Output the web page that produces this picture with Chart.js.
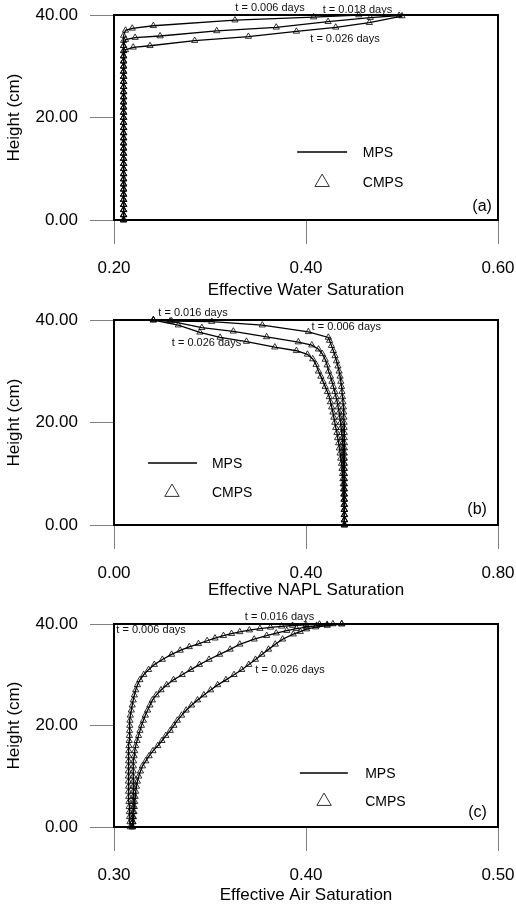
<!DOCTYPE html>
<html>
<head>
<meta charset="UTF-8">
<title>Effective saturation profiles</title>
<script src="https://cdn.jsdelivr.net/npm/chart.js"></script>
<style>
  html, body { margin: 0; padding: 0; background: #fff; }
  canvas { position: absolute; left: 0; }
</style>
</head>
<body>
<canvas id="chartA" width="516" height="299" style="top:0px"></canvas>
<canvas id="chartB" width="516" height="299" style="top:305px"></canvas>
<canvas id="chartC" width="516" height="299" style="top:609px"></canvas>

<script>
// tick values
const heightTicks = [0, 20, 40];
const waterTicks = [0.2, 0.4, 0.6];
const naplTicks = [0.0, 0.4, 0.8];
const airTicks = [0.3, 0.4, 0.5];

// (a) effective water saturation, [saturation, height cm]
const waterT006 = [
  [0.21,0],[0.21,1],[0.21,2],[0.21,3],[0.21,4],[0.21,5],[0.21,6],[0.21,7],[0.21,8],[0.21,9],
  [0.21,10],[0.21,11],[0.21,12],[0.21,13],[0.21,14],[0.21,15],[0.21,16],[0.21,17],[0.21,18],[0.21,19],
  [0.21,20],[0.21,21],[0.21,22],[0.21,23],[0.21,24],[0.21,25],[0.21,26],[0.21,27],[0.21,28],[0.21,29],
  [0.21,30],[0.21,31],[0.21,32],[0.21,33],[0.21,34],[0.21,35],[0.21,36],
  [0.212,37.0],[0.219,37.4],[0.241,37.9],[0.326,39.0],[0.408,39.6],[0.455,40.0]
];
const waterT018 = [
  [0.21,0],[0.21,1],[0.21,2],[0.21,3],[0.21,4],[0.21,5],[0.21,6],[0.21,7],[0.21,8],[0.21,9],
  [0.21,10],[0.21,11],[0.21,12],[0.21,13],[0.21,14],[0.21,15],[0.21,16],[0.21,17],[0.21,18],[0.21,19],
  [0.21,20],[0.21,21],[0.21,22],[0.21,23],[0.21,24],[0.21,25],[0.21,26],[0.21,27],[0.21,28],[0.21,29],
  [0.21,30],[0.21,31],[0.21,32],[0.21,33],[0.21,34],
  [0.212,35.2],[0.222,35.6],[0.248,35.9],[0.307,36.9],[0.369,37.6],[0.423,38.7],[0.467,39.5],[0.497,39.9]
];
const waterT026 = [
  [0.21,0],[0.21,1],[0.21,2],[0.21,3],[0.21,4],[0.21,5],[0.21,6],[0.21,7],[0.21,8],[0.21,9],
  [0.21,10],[0.21,11],[0.21,12],[0.21,13],[0.21,14],[0.21,15],[0.21,16],[0.21,17],[0.21,18],[0.21,19],
  [0.21,20],[0.21,21],[0.21,22],[0.21,23],[0.21,24],[0.21,25],[0.21,26],[0.21,27],[0.21,28],[0.21,29],
  [0.21,30],[0.21,31],[0.21,32],
  [0.212,33.2],[0.220,33.7],[0.2375,34.0],[0.284,35.0],[0.34,35.8],[0.39,36.8],[0.431,37.6],[0.466,38.5],[0.50,39.8]
];

// (b) effective NAPL saturation
const naplT006 = [
  [0.082,40],[0.12,39.8],[0.2035,39.7],[0.309,39.0],[0.405,37.7],[0.4465,36.6],
  [0.449,36],[0.453,35],[0.457,34],[0.4605,33],[0.4635,32],[0.4665,31],[0.469,30],[0.471,29],[0.4725,28],[0.474,27],
  [0.475,26],[0.476,25],[0.477,24],[0.478,23],[0.4785,22],[0.479,21],[0.4793,20],[0.4795,19],[0.4797,18],[0.4798,17],
  [0.48,16],[0.48,15],[0.48,14],[0.48,13],[0.48,12],[0.48,11],[0.48,10],[0.48,9],[0.48,8],[0.48,7],
  [0.48,6],[0.48,5],[0.48,4],[0.48,3],[0.48,2],[0.48,1],[0.48,0]
];
const naplT016 = [
  [0.082,40],[0.117,39.8],[0.183,38.5],[0.2486,37.8],[0.318,36.7],[0.384,35.7],[0.412,35.1],[0.426,34.3],
  [0.434,33.4],[0.44,32.3],[0.444,31.2],[0.447,30],[0.451,29],[0.454,28],[0.457,27],[0.46,26],[0.4625,25],
  [0.465,24],[0.467,23],[0.469,22],[0.4705,21],[0.472,20],[0.473,19],[0.4745,18],[0.4755,17],[0.4765,16],
  [0.4772,15],[0.4778,14],[0.4783,13],[0.4787,12],[0.479,11],[0.4793,10],[0.4795,9],[0.4797,8],[0.4798,7],
  [0.48,6],[0.48,5],[0.48,4],[0.48,3],[0.48,2],[0.48,1],[0.48,0]
];
const naplT026 = [
  [0.082,40],[0.134,39.0],[0.179,37.6],[0.221,36.6],[0.276,35.8],[0.335,34.7],[0.38,34.0],[0.403,33.3],
  [0.414,32.4],[0.421,31.3],[0.426,30],[0.431,29],[0.4355,28],[0.44,27],[0.4445,26],[0.4485,25],[0.451,24],
  [0.4535,23],[0.456,22],[0.458,21],[0.46,20],[0.462,19],[0.4645,18],[0.466,17],[0.468,16],[0.4695,15],
  [0.471,14],[0.4725,13],[0.474,12],[0.475,11],[0.476,10],[0.4768,9],[0.4775,8],[0.478,7],[0.4785,6],
  [0.479,5],[0.4793,4],[0.4796,3],[0.4798,2],[0.48,1],[0.48,0]
];

// (c) effective air saturation
const airT006 = [
  [0.3085,0],[0.3083,1],[0.3081,2],[0.308,3],[0.3079,4],[0.3078,5],[0.3077,6],[0.3076,7],[0.3076,8],[0.3075,9],
  [0.3075,10],[0.3075,11],[0.3075,12],[0.3076,13],[0.3076,14],[0.3077,15],[0.3078,16],[0.3079,17],[0.308,18],
  [0.3081,19],[0.3082,20],[0.3083,21],[0.3085,22],[0.309,23],[0.3095,24],[0.310,25],[0.3106,26],[0.3113,27],
  [0.3122,28],[0.3135,29],[0.3155,30],[0.318,31],[0.321,32],[0.3252,33],[0.33,34],[0.3345,34.8],[0.3392,35.5],
  [0.344,36.1],[0.3485,36.7],[0.3526,37.2],[0.357,37.7],[0.3612,38.1],[0.3655,38.45],[0.3705,38.8],[0.376,39.1],
  [0.3815,39.35],[0.3873,39.55],[0.393,39.7],[0.40,39.85],[0.407,39.95],[0.414,40]
];
const airT016 = [
  [0.3096,0],[0.3097,1],[0.3098,2],[0.3099,3],[0.31,4],[0.31,5],[0.31,6],[0.31,7],[0.31,8],[0.31,9],
  [0.31,10],[0.31,11],[0.3101,12],[0.3102,13],[0.3105,14],[0.3108,15],[0.3113,16],[0.312,17],[0.3128,18],
  [0.3135,19],[0.3143,20],[0.3153,21],[0.3163,22],[0.3175,23],[0.3187,24],[0.32,25],[0.322,26],[0.3245,27],
  [0.3274,28],[0.331,29],[0.3355,30],[0.34,31],[0.3445,32],[0.3495,33],[0.355,34],[0.3605,35],[0.3655,36],
  [0.373,37],[0.3795,37.7],[0.3845,38.2],[0.39,38.7],[0.395,39.1],[0.4003,39.4],[0.4055,39.7],[0.411,39.9],[0.4186,40]
];
const airT026 = [
  [0.3096,0],[0.3099,1],[0.3101,2],[0.3104,3],[0.3106,4],[0.3108,5],[0.311,6],[0.3113,7],[0.3117,8],[0.3122,9],
  [0.3129,10],[0.3138,11],[0.3148,12],[0.3165,13],[0.3183,14],[0.3203,15],[0.3228,16],[0.325,17],[0.327,18],
  [0.3293,19],[0.3312,20],[0.333,21],[0.3352,22],[0.3376,23],[0.3404,24],[0.3435,25],[0.3468,26],[0.3503,27],
  [0.354,28],[0.3583,29],[0.3625,30],[0.3665,31],[0.3702,32],[0.3737,33],[0.377,34],[0.3805,35],[0.384,36],
  [0.3878,37],[0.3934,38],[0.397,38.5],[0.4003,39],[0.405,39.4],[0.411,39.7],[0.4186,40]
];

const FONT = "'Liberation Sans', Arial, Helvetica, sans-serif";
Chart.defaults.font.family = FONT;
Chart.defaults.color = '#000';

// thick box round the plot area
const framePlugin = {
  id: 'frame',
  afterDatasetsDraw(chart) {
    const a = chart.chartArea;
    const ctx = chart.ctx;
    ctx.save();
    ctx.lineWidth = 2;
    ctx.strokeStyle = '#000';
    ctx.strokeRect(a.left, a.top, a.right - a.left, a.bottom - a.top);
    ctx.restore();
  }
};

// curve labels (data coords), legend and panel tag
function makeDecor(p) {
  return {
    id: 'decor',
    afterDraw(chart) {
      const ctx = chart.ctx;
      const xs = chart.scales.x, ys = chart.scales.y;
      const a = chart.chartArea;
      const w = a.right - a.left, h = a.bottom - a.top;
      ctx.save();
      ctx.fillStyle = '#111';
      ctx.textAlign = 'center';
      ctx.textBaseline = 'middle';
      ctx.font = '11px ' + FONT;
      p.notes.forEach(n => {
        ctx.fillText(n.text, xs.getPixelForValue(n.x), ys.getPixelForValue(n.y));
      });

      const lg = p.legend;
      const ly1 = a.top + h * lg.y1, ly2 = a.top + h * lg.y2;
      ctx.strokeStyle = '#000';
      ctx.lineWidth = 1.5;
      ctx.beginPath();
      ctx.moveTo(a.left + w * lg.lx1, ly1);
      ctx.lineTo(a.left + w * lg.lx2, ly1);
      ctx.stroke();

      const tx = a.left + w * lg.tri, r = 8;
      ctx.lineWidth = 1;
      ctx.strokeStyle = '#333';
      ctx.beginPath();
      ctx.moveTo(tx, ly2 - r);
      ctx.lineTo(tx + r * 0.9, ly2 + r * 0.55);
      ctx.lineTo(tx - r * 0.9, ly2 + r * 0.55);
      ctx.closePath();
      ctx.stroke();

      ctx.textAlign = 'left';
      ctx.font = '14px ' + FONT;
      ctx.fillStyle = '#000';
      ctx.fillText('MPS', a.left + w * lg.text, ly1 + 1);
      ctx.fillText('CMPS', a.left + w * lg.text, ly2 + 1);

      ctx.textAlign = 'right';
      ctx.font = '16px ' + FONT;
      ctx.fillText(p.tag, a.left + w * lg.tagX, a.top + h * lg.tagY);
      ctx.restore();
    }
  };
}

function curveSets(points) {
  return [
    { data: points.slice(), showLine: true, borderColor: '#000', borderWidth: 1.3,
      pointRadius: 0, tension: 0 },
    { data: points.slice(), showLine: false, pointStyle: 'triangle', pointRadius: 3.6,
      borderColor: '#000', borderWidth: 0.8, backgroundColor: 'rgba(0,0,0,0)', clip: false }
  ];
}

const tickGrid = { drawOnChartArea: false, tickLength: 24, color: '#808080', lineWidth: 1 };

function makePanel(id, p) {
  new Chart(document.getElementById(id), {
    type: 'scatter',
    data: { datasets: [].concat(...p.curves.map(curveSets)) },
    options: {
      responsive: false,
      animation: false,
      layout: { padding: { top: 15, right: 18, bottom: 0, left: 0 } },
      plugins: { legend: { display: false }, tooltip: { enabled: false } },
      scales: {
        x: {
          type: 'linear', min: p.xMin, max: p.xMax,
          afterBuildTicks: s => { s.ticks = p.xTicks.map(v => ({ value: v })); },
          afterFit: s => { s.height = p.axisH; s.paddingLeft = 0; s.paddingRight = 0; },
          grid: tickGrid,
          border: { display: false },
          ticks: { padding: 14, maxRotation: 0, font: { size: 17 }, callback: v => v.toFixed(2) },
          title: { display: true, text: p.xTitle, font: { size: 17, lineHeight: 1 },
                   padding: { top: 0, bottom: p.titlePad } }
        },
        y: {
          type: 'linear', min: 0, max: 40,
          afterBuildTicks: s => { s.ticks = heightTicks.map(v => ({ value: v })); },
          afterFit: s => { s.width = 114; s.paddingTop = 0; s.paddingBottom = 0; },
          grid: tickGrid,
          border: { display: false },
          ticks: { padding: 12, font: { size: 17 }, callback: v => v.toFixed(2) },
          title: { display: true, text: 'Height (cm)', font: { size: 17, lineHeight: 1 },
                   padding: { top: 6, bottom: 0 } }
        }
      }
    },
    plugins: [framePlugin, makeDecor(p)]
  });
}

makePanel('chartA', {
  curves: [waterT006, waterT018, waterT026],
  xMin: 0.2, xMax: 0.6, xTicks: waterTicks, xTitle: 'Effective Water Saturation',
  axisH: 79, titlePad: 0, tag: '(a)',
  notes: [
    { text: 't = 0.006 days', x: 0.3625, y: 41.4 },
    { text: 't = 0.018 days', x: 0.4536, y: 41.0 },
    { text: 't = 0.026 days', x: 0.4406, y: 35.3 }
  ],
  legend: { lx1: 0.477, lx2: 0.607, y1: 0.668, tri: 0.542, y2: 0.815, text: 0.648, tagX: 0.984, tagY: 0.937 }
});

makePanel('chartB', {
  curves: [naplT006, naplT016, naplT026],
  xMin: 0, xMax: 0.8, xTicks: naplTicks, xTitle: 'Effective NAPL Saturation',
  axisH: 79, titlePad: 5, tag: '(b)',
  notes: [
    { text: 't = 0.016 days', x: 0.1646, y: 41.4 },
    { text: 't = 0.006 days', x: 0.484, y: 38.6 },
    { text: 't = 0.026 days', x: 0.1927, y: 35.5 }
  ],
  legend: { lx1: 0.0885, lx2: 0.216, y1: 0.698, tri: 0.151, y2: 0.839, text: 0.255, tagX: 0.971, tagY: 0.927 }
});

makePanel('chartC', {
  curves: [airT006, airT016, airT026],
  xMin: 0.3, xMax: 0.5, xTicks: airTicks, xTitle: 'Effective Air Saturation',
  axisH: 81, titlePad: 4, tag: '(c)',
  notes: [
    { text: 't = 0.006 days', x: 0.3193, y: 38.8 },
    { text: 't = 0.016 days', x: 0.3862, y: 41.4 },
    { text: 't = 0.026 days', x: 0.3917, y: 30.9 }
  ],
  legend: { lx1: 0.484, lx2: 0.609, y1: 0.734, tri: 0.547, y2: 0.872, text: 0.654, tagX: 0.971, tagY: 0.93 }
});
</script>
</body>
</html>
